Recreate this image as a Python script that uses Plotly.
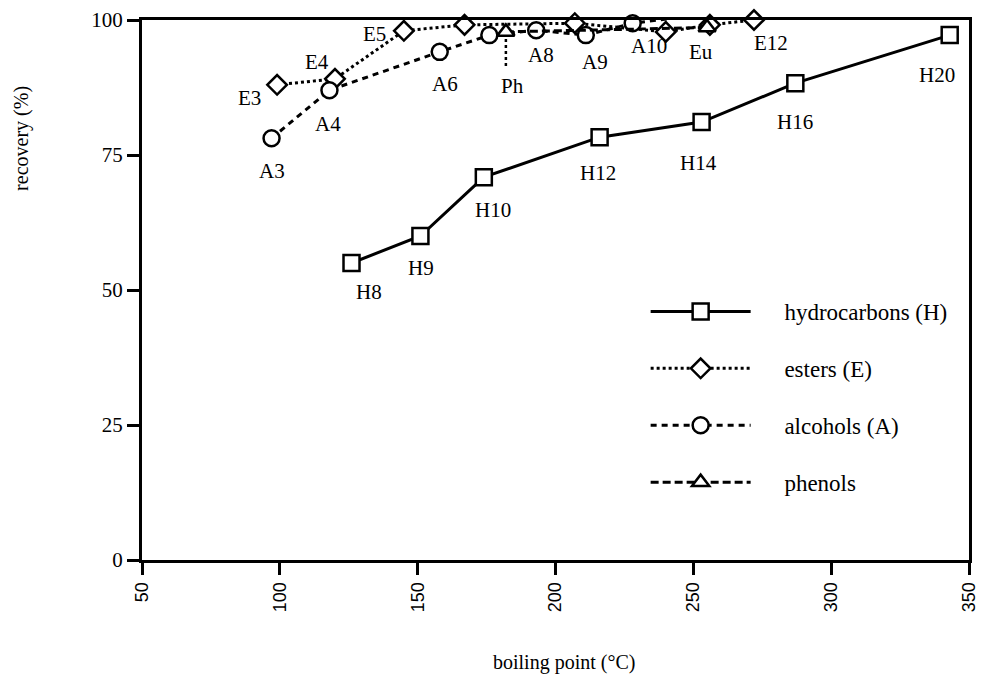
import plotly.graph_objects as go

# Data (boiling point °C, recovery %)
hc_bp = [126, 151, 174, 216, 253, 287, 343]
hc_rec = [55.0, 60.0, 70.9, 78.3, 81.1, 88.3, 97.2]

est_bp = [99, 120, 145, 167, 207, 240, 256, 272]
est_rec = [88.0, 89.1, 98.0, 99.1, 99.4, 97.8, 99.1, 100.0]

alc_bp = [97, 118, 158, 176, 193, 211, 228, 242]
alc_rec = [78.1, 87.0, 94.1, 97.2, 98.1, 97.2, 99.4, 100.3]

phe_bp = [182, 255]
phe_rec = [97.8, 98.6]

x_ticks = [50, 100, 150, 200, 250, 300, 350]
y_ticks = [0, 25, 50, 75, 100]

# point labels: (text, x, y) in data coords
labels = [
    ("E3", 89.0, 85.6), ("E4", 113.6, 92.2), ("E5", 134.2, 97.4),
    ("A3", 97.0, 72.0), ("A4", 117.6, 80.7), ("A6", 159.9, 88.1),
    ("Ph", 184.4, 87.8), ("A8", 194.6, 93.5), ("A9", 214.4, 92.2),
    ("A10", 234.0, 95.2), ("Eu", 252.7, 94.1), ("E12", 278.0, 95.7),
    ("H8", 132.4, 49.6), ("H9", 151.2, 54.1), ("H10", 177.2, 64.8),
    ("H12", 215.5, 71.7), ("H14", 252.0, 73.5), ("H16", 287.0, 81.1),
    ("H20", 338.4, 89.8),
]

FONT = "Liberation Serif"
SANS = "Liberation Sans"
mk_line = dict(color="black", width=2.5)
PAD = "\u00a0" * 5

fig = go.Figure()
fig.add_trace(go.Scatter(
    x=hc_bp, y=hc_rec, mode="lines+markers", name=PAD + "hydrocarbons (H)",
    line=dict(color="black", width=3, dash="solid"),
    marker=dict(symbol="square", size=16, color="white", line=mk_line),
    legendgroup="h", cliponaxis=False))
fig.add_trace(go.Scatter(
    x=est_bp, y=est_rec, mode="lines+markers", name=PAD + "esters (E)",
    line=dict(color="black", width=3, dash="dot"),
    marker=dict(symbol="diamond", size=15, color="white", line=mk_line),
    legendgroup="e", cliponaxis=False))
fig.add_trace(go.Scatter(
    x=alc_bp, y=alc_rec, mode="lines+markers", name=PAD + "alcohols (A)",
    line=dict(color="black", width=3, dash="6px,5px"),
    marker=dict(symbol="circle", size=16, color="white", line=mk_line),
    legendgroup="a", cliponaxis=False))
fig.add_trace(go.Scatter(
    x=phe_bp, y=phe_rec, mode="lines+markers", name=PAD + "phenols",
    line=dict(color="black", width=3, dash="8px,4px"),
    marker=dict(symbol="triangle-up", size=15, color="white", line=mk_line),
    legendgroup="p", cliponaxis=False))

for t, x, y in labels:
    fig.add_annotation(x=x, y=y, text=t, showarrow=False, xref="x", yref="y",
                       font=dict(family=FONT, size=21, color="black"))

# Ph leader line
fig.add_shape(type="line", x0=phe_bp[0], x1=phe_bp[0], y0=96.5, y1=91.5,
              xref="x", yref="y", line=dict(color="black", width=2.5, dash="dot"))

# axis titles
fig.add_annotation(x=0.51, y=-0.189, xref="paper", yref="paper", text="boiling point (°C)",
                   xanchor="center", yanchor="middle",
                   showarrow=False, font=dict(family=FONT, size=20, color="black"))
fig.add_annotation(x=-0.145, y=0.78, xref="paper", yref="paper", text="recovery (%)",
                   xanchor="center", yanchor="middle",
                   textangle=-90, showarrow=False, font=dict(family=FONT, size=20, color="black"))

axis_common = dict(showline=True, linecolor="black", linewidth=3, mirror=True,
                   ticks="outside", ticklen=12, tickwidth=3, tickcolor="black",
                   showgrid=False, zeroline=False, automargin=False)

fig.update_xaxes(range=[50, 350], tickvals=x_ticks, ticktext=[str(v) for v in x_ticks],
                 tickangle=-90, tickfont=dict(family=SANS, size=18, color="black"),
                 **axis_common)
fig.update_yaxes(range=[0, 100], tickvals=y_ticks, ticktext=[str(v) for v in y_ticks],
                 tickfont=dict(family=FONT, size=21, color="black"), **axis_common)

fig.update_layout(
    width=985, height=675,
    margin=dict(l=142, r=16, t=20, b=115),
    paper_bgcolor="white", plot_bgcolor="white",
    showlegend=True,
    legend=dict(x=0.609, y=0.5, xanchor="left", yanchor="top",
                bgcolor="rgba(0,0,0,0)", itemwidth=100, traceorder="grouped",
                tracegroupgap=24,
                font=dict(family=FONT, size=23, color="black")),
)

fig.write_html("out.html", config={"displayModeBar": False},
               post_script="document.body.style.margin='0';document.body.style.overflow='hidden';")
